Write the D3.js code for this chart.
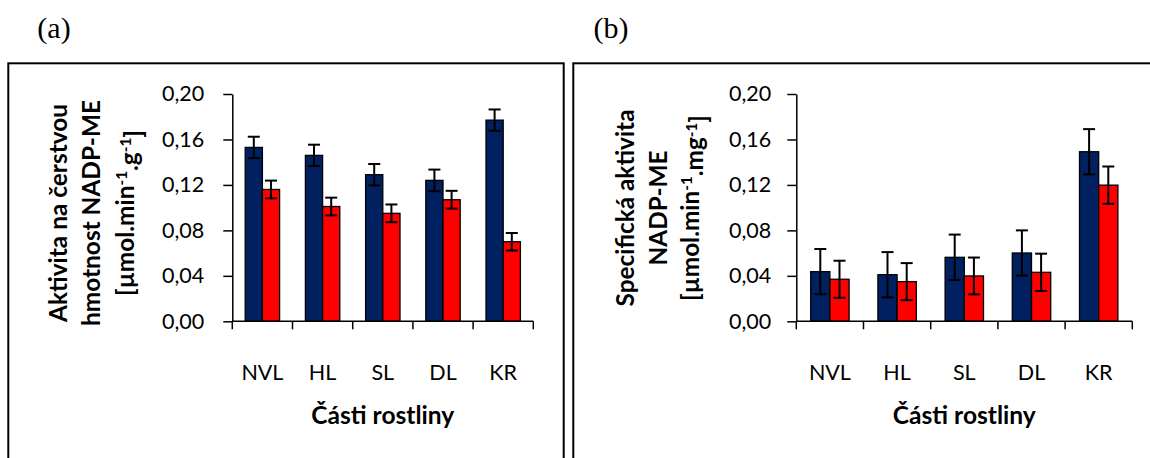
<!DOCTYPE html>
<html>
<head>
<meta charset="utf-8">
<script src="https://cdn.jsdelivr.net/npm/d3@7"></script>
<style>
  html, body { margin: 0; padding: 0; background: #fff; }
  svg { display: block; }
  text { font-family: Lato, "Open Sans", sans-serif; fill: #000; }
</style>
</head>
<body>
<svg id="chart" width="1150" height="458"></svg>
<script>
// ---- data ----
const categories = ["NVL", "HL", "SL", "DL", "KR"];
const yTicks = [0, 0.04, 0.08, 0.12, 0.16, 0.20];

// (a) activity per fresh weight
const aBlue    = [0.153, 0.146, 0.129, 0.124, 0.177];
const aBlueErr = [0.0094, 0.0094, 0.0094, 0.0095, 0.0094];
const aRed     = [0.116, 0.101, 0.095, 0.107, 0.070];
const aRedErr  = [0.0078, 0.0078, 0.0078, 0.0078, 0.0077];

// (b) specific activity
const bBlue    = [0.0437, 0.0410, 0.0563, 0.0601, 0.1492];
const bBlueErr = [0.0199, 0.0199, 0.0200, 0.0199, 0.0199];
const bRed     = [0.0370, 0.0349, 0.0399, 0.0431, 0.1198];
const bRedErr  = [0.0163, 0.0163, 0.0162, 0.0164, 0.0164];

const xTitle = "Části rostliny";
const aYTitle = [["Aktivita na čerstvou"], ["hmotnost NADP-ME"], ["[µmol.min", {sup: "-1"}, ".g", {sup: "-1"}, "]"]];
const bYTitle = [["Specifická aktivita"], ["NADP-ME"], ["[µmol.min", {sup: "-1"}, ".mg", {sup: "-1"}, "]"]];

const colors = { blue: "#002060", red: "#FF0000" };

const svg = d3.select("#chart");
svg.append("rect").attr("width", 1150).attr("height", 458).attr("fill", "#fff");

const panels = [
  { label: "(a)", labelX: 54, frame: [8.3, 63.3, 563.7], x0: 232.3, x1: 533.3,
    tickGap: 19, titleX: [58.5, 91.5, 125], titleCY: 213,
    blue: aBlue, blueErr: aBlueErr, red: aRed, redErr: aRedErr, yTitle: aYTitle },
  { label: "(b)", labelX: 611, frame: [573.3, 63.3, 1160], x0: 796.3, x1: 1132.3,
    tickGap: 16, titleX: [625, 658, 690.5], titleCY: 208,
    blue: bBlue, blueErr: bBlueErr, red: bRed, redErr: bRedErr, yTitle: bYTitle }
];

const yTop = 94, yBottom = 321.3;
const fmt = d => d.toFixed(2).replace(".", ",");

function fitSize(sel, target, base) {
  const w = sel.node().getComputedTextLength();
  if (w > 0) sel.style("font-size", (base * target / w).toFixed(2) + "px");
}

panels.forEach((p, pi) => {
  const g = svg.append("g");

  // panel letter
  g.append("text").attr("x", p.labelX).attr("y", 38)
    .attr("text-anchor", "middle")
    .style("font-family", "'Liberation Serif', 'Times New Roman', serif")
    .style("font-size", "30px")
    .text(p.label);

  // frame
  g.append("rect")
    .attr("x", p.frame[0]).attr("y", p.frame[1])
    .attr("width", p.frame[2] - p.frame[0]).attr("height", 420)
    .attr("fill", "none").attr("stroke", "#000").attr("stroke-width", 2);

  const y = d3.scaleLinear().domain([0, 0.2]).range([yBottom, yTop]);
  const x = d3.scaleBand().domain(categories).range([p.x0, p.x1]).paddingInner(0).paddingOuter(0);
  const barW = x.bandwidth() / 3.5;
  const sub = d3.scaleBand().domain(["blue", "red"]).range([0, 2 * barW]);

  const rows = categories.map((c, i) => ({
    c,
    vals: [
      { s: "blue", v: p.blue[i], e: p.blueErr[i] },
      { s: "red", v: p.red[i], e: p.redErr[i] }
    ]
  }));

  const groups = g.selectAll("g.cat").data(rows).join("g")
    .attr("class", "cat")
    .attr("transform", d => `translate(${x(d.c) + (x.bandwidth() - 2 * barW) / 2},0)`);

  groups.selectAll("rect").data(d => d.vals).join("rect")
    .attr("x", d => sub(d.s))
    .attr("y", d => y(d.v))
    .attr("width", sub.bandwidth())
    .attr("height", d => y(0) - y(d.v))
    .attr("fill", d => colors[d.s])
    .attr("stroke", "#000").attr("stroke-width", 1.3);

  // error bars
  const eb = groups.selectAll("g.err").data(d => d.vals).join("g").attr("class", "err")
    .attr("transform", d => `translate(${sub(d.s) + sub.bandwidth() / 2},0)`);
  eb.append("line").attr("x1", 0).attr("x2", 0)
    .attr("y1", d => y(d.v + d.e)).attr("y2", d => y(d.v - d.e))
    .attr("stroke", "#000").attr("stroke-width", 2);
  eb.append("line").attr("x1", -6).attr("x2", 6)
    .attr("y1", d => y(d.v + d.e)).attr("y2", d => y(d.v + d.e))
    .attr("stroke", "#000").attr("stroke-width", 2);
  eb.append("line").attr("x1", -6).attr("x2", 6)
    .attr("y1", d => y(d.v - d.e)).attr("y2", d => y(d.v - d.e))
    .attr("stroke", "#000").attr("stroke-width", 2);

  // y axis
  const yAxis = d3.axisLeft(y).tickValues(yTicks).tickFormat(fmt)
    .tickSize(9).tickPadding(p.tickGap).tickSizeOuter(0);
  const ya = g.append("g").attr("transform", `translate(${p.x0},0)`).call(yAxis);
  ya.selectAll("path, line").attr("stroke", "#000").attr("stroke-width", 1.5);
  ya.selectAll("text").style("font-size", "21.5px").style("font-family", "Lato, sans-serif").attr("fill", "#000");

  // x axis: domain line + boundary ticks
  const xa = g.append("g");
  xa.append("line").attr("x1", p.x0).attr("x2", p.x1).attr("y1", y(0)).attr("y2", y(0))
    .attr("stroke", "#000").attr("stroke-width", 1.5);
  const bounds = categories.map(c => x(c)).concat([p.x1]);
  xa.selectAll("line.bt").data(bounds).join("line").attr("class", "bt")
    .attr("x1", d => d).attr("x2", d => d)
    .attr("y1", y(0)).attr("y2", y(0) + 8)
    .attr("stroke", "#000").attr("stroke-width", 1.5);
  xa.selectAll("text.cl").data(categories).join("text").attr("class", "cl")
    .attr("x", d => x(d) + x.bandwidth() / 2).attr("y", 380)
    .attr("text-anchor", "middle").style("font-size", "21.5px")
    .text(d => d);

  // x title
  const xt = g.append("text").attr("x", (p.x0 + p.x1) / 2).attr("y", 424)
    .attr("text-anchor", "middle").style("font-size", "24px").style("font-weight", "bold")
    .text(xTitle);
  fitSize(xt, 143, 24);

  // y title (rotated, 3 lines)
  const lines = [];
  p.yTitle.forEach((parts, li) => {
    const t = g.append("text")
      .attr("transform", `translate(${p.titleX[li]},${p.titleCY}) rotate(-90)`)
      .attr("text-anchor", "middle").attr("dy", "0.36em")
      .style("font-size", "24px").style("font-weight", "bold");
    let shiftNext = false;
    parts.forEach(part => {
      if (typeof part === "string") {
        const ts = t.append("tspan").text(part);
        if (shiftNext) ts.attr("dy", "0.45em");
        shiftNext = false;
      } else {
        t.append("tspan").attr("dy", "-0.45em").style("font-size", "15px").text(part.sup);
        shiftNext = true;
      }
    });
    lines.push(t);
  });
  // scale the whole title block so the first line matches the reference length
  const target = pi === 0 ? 218 : 197;
  const w0 = lines[0].node().getComputedTextLength();
  if (w0 > 0) {
    const k = target / w0;
    lines.forEach(t => {
      t.style("font-size", (24 * k).toFixed(2) + "px");
      t.selectAll("tspan").filter(function () { return this.style.fontSize === "15px"; })
        .style("font-size", (15 * k).toFixed(2) + "px");
    });
  }
});
</script>
</body>
</html>
